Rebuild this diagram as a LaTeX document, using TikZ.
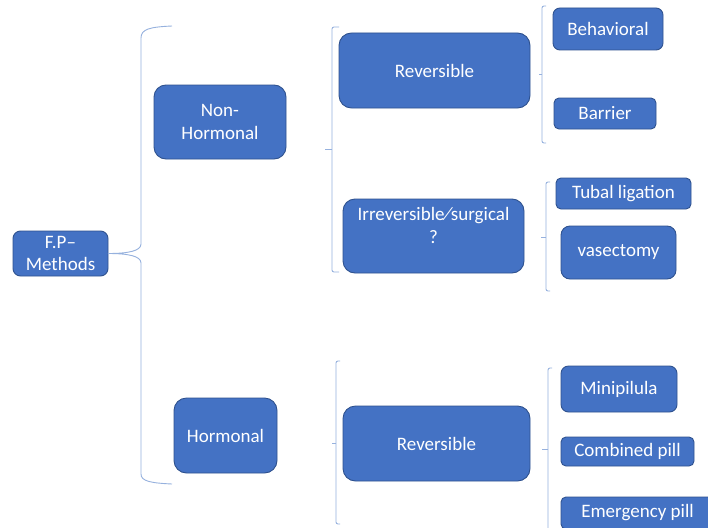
\documentclass[tikz,border=0pt]{standalone}
\usepackage{fontspec}
\setmainfont{Carlito}
\definecolor{boxfill}{RGB}{68,114,196}
\definecolor{boxline}{RGB}{47,82,143}
\definecolor{bracketline}{RGB}{150,177,222}
\begin{document}
\begin{tikzpicture}[x=1pt,y=-1pt,
  itemtext/.style={text=white, inner sep=0pt, align=center,
    font=\fontsize{19}{22.5}\selectfont},
  item/.style={itemtext, draw=boxline, fill=boxfill, line width=0.9pt, outer sep=0pt},
  bracket/.style={draw=bracketline, line width=0.9pt, rounded corners=2pt},
  bigbracket/.style={draw=bracketline, line width=0.9pt}]
\useasboundingbox (0,0) rectangle (708,527);
\clip (0,0) rectangle (708,527);
\fill[white] (0,0) rectangle (708,527);

% level 0 and level 1 boxes
\node[item, minimum width=95, minimum height=45, rounded corners=7.5] (fp) at (60.5,253.5) {F.P–\\Methods};
\node[item, minimum width=132, minimum height=74, rounded corners=12] (nonh) at (220,122) {Non-\\Hormonal};
\node[item, minimum width=103, minimum height=75, rounded corners=12.5] (horm) at (225.5,435.5) {Hormonal};

% level 2 boxes
\node[item, minimum width=191, minimum height=75, rounded corners=12.5] (rev1) at (434.5,70.5) {Reversible};
\node[item, minimum width=181, minimum height=74, rounded corners=12] (irr) at (433.5,236) {};
\node[itemtext] (irrtext) at (433.5,225.5) {Irreversible⁄surgical\\?};
\node[item, minimum width=187, minimum height=75, rounded corners=12.5] (rev2) at (436.5,443.5) {Reversible};

% level 3 boxes
\node[item, minimum width=110, minimum height=42, rounded corners=7] (beh) at (608,29) {Behavioral};
\node[item, minimum width=102, minimum height=31, rounded corners=5] (bar) at (605,113.5) {Barrier};
\node[item, minimum width=135, minimum height=31, rounded corners=5] (tub) at (623.5,193.5) {Tubal ligation};
\node[item, minimum width=115, minimum height=53, rounded corners=9] (vas) at (618.5,252.5) {vasectomy};
\node[item, minimum width=116, minimum height=46, rounded corners=7.5] (mini) at (619,389) {Minipilula};
\node[item, minimum width=133, minimum height=29, rounded corners=5] (comb) at (627.5,451.5) {Combined pill};
\node[item, minimum width=153, minimum height=32, rounded corners=5] (emer) at (637.5,513) {Emergency pill};

% main brace from F.P box to the two groups
\draw[bigbracket] (172,26) .. controls (150,27) and (141,29) .. (141,38)
  -- (141,244) .. controls (141,251) and (128,253.5) .. (fp.east)
  .. controls (128,253.5) and (141,256) .. (141,263)
  -- (141,474) .. controls (141,481) and (150,483) .. (172,484);

% small brackets
\coordinate (b2tip) at (325,149);
\draw[bracket] (339,27) -- (332,27) -- (332,272) -- (339,272);
\draw[bracket] (332,149) -- (b2tip);

\coordinate (b3tip) at (539,74);
\draw[bracket] (546,6) -- (542,6) -- (542,143) -- (546,143);
\draw[bracket] (542,74) -- (b3tip);

\coordinate (b4tip) at (541,237);
\draw[bracket] (550,182) -- (546,182) -- (546,291) -- (550,291);
\draw[bracket] (546,237) -- (b4tip);

\coordinate (b5tip) at (332,443);
\draw[bracket] (340,361) -- (336,361) -- (336,524) -- (340,524);
\draw[bracket] (336,443) -- (b5tip);

\coordinate (b6tip) at (542,449);
\draw[bracket] (552,368) -- (548,368) -- (548,545);
\draw[bracket] (548,449) -- (b6tip);
\end{tikzpicture}
\end{document}
